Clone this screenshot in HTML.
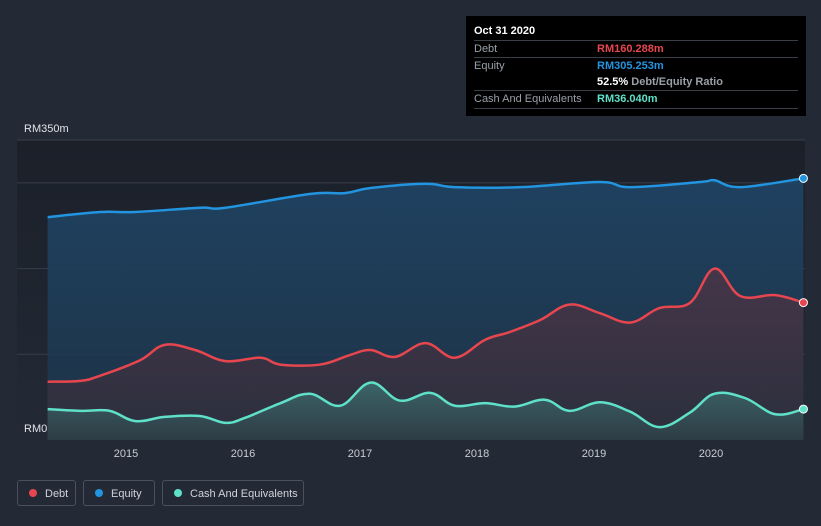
<!DOCTYPE html>
<html><head><meta charset="utf-8">
<style>
html,body{margin:0;padding:0;background:#232a36;width:821px;height:526px;overflow:hidden;font-family:"Liberation Sans",sans-serif;}
#tip{position:absolute;left:466px;top:16px;width:340px;height:100px;background:#000;}
#tip .t{position:absolute;left:8px;top:9px;color:#fff;font-weight:bold;font-size:11px;}
#tip .row{position:absolute;left:8px;width:324px;font-size:11px;color:#9aa0a8;border-top:1px solid #3a3f46;height:17px;line-height:17px;}
#tip .v{position:absolute;left:123px;font-weight:bold;}
.legend{position:absolute;top:480px;height:26px;border:1px solid #4a515c;border-radius:3px;color:#d0d4da;font-size:11px;line-height:26px;box-sizing:border-box;}
.legend i{display:inline-block;width:8px;height:8px;border-radius:50%;margin:0 8px 0 11px;vertical-align:-0px;}
</style></head><body>
<svg id="chart" width="821" height="526" style="position:absolute;left:0;top:0">
<defs>
<linearGradient id="bg" x1="0" y1="0" x2="0" y2="1"><stop offset="0" stop-color="#1b2029"/><stop offset="1" stop-color="#232a36"/></linearGradient>
<linearGradient id="eqg" x1="0" y1="0" x2="0" y2="1"><stop offset="0" stop-color="#1f4566"/><stop offset="1" stop-color="#1e3347"/></linearGradient>
<linearGradient id="dbg" x1="0" y1="0" x2="0" y2="1"><stop offset="0" stop-color="#4a3548"/><stop offset="1" stop-color="#2c2f3c"/></linearGradient>
<linearGradient id="csg" x1="0" y1="0" x2="0" y2="1"><stop offset="0" stop-color="#3d6a6c"/><stop offset="1" stop-color="#2e3d46"/></linearGradient>
</defs>
<rect x="17" y="140" width="788" height="300" fill="url(#bg)"/>
<g id="grid"></g>
<g id="series"></g>
<g id="xaxis"></g>
<text x="24" y="132" fill="#e0e3e8" font-size="11">RM350m</text>
<text x="24" y="432" fill="#e0e3e8" font-size="11">RM0</text>
</svg>
<div id="tip">
<div class="t">Oct 31 2020</div>
<div class="row" style="top:24px">Debt<span class="v" style="color:#e8464f">RM160.288m</span></div>
<div class="row" style="top:41px">Equity<span class="v" style="color:#2394df">RM305.253m</span></div>
<div class="row" style="top:58px;border-top:none"><span class="v"><b style="color:#fff">52.5%</b> Debt/Equity Ratio</span></div>
<div class="row" style="top:74px;border-bottom:1px solid #3a3f46">Cash And Equivalents<span class="v" style="color:#5fe0c8">RM36.040m</span></div>
</div>
<div class="legend" style="left:17px;width:59px"><i style="background:#e8464f"></i>Debt</div>
<div class="legend" style="left:83px;width:72px"><i style="background:#2394df"></i>Equity</div>
<div class="legend" style="left:162px;width:142px"><i style="background:#5fe0c8"></i>Cash And Equivalents</div>
<script>
const yearTicks=[2015,2016,2017,2018,2019,2020];
const gridValues=[100,200,300];
const eqDates=[2014.33,2014.78,2015.08,2015.63,2015.85,2016.57,2016.87,2017.09,2017.56,2017.81,2018.37,2019.05,2019.31,2019.91,2020.03,2020.25,2020.79];
const eqVals=[260,266,266,271,271,287,288,294,299,295,295,301,295,301,303,295,305.253];
const dbDates=[2014.33,2014.61,2014.78,2015.12,2015.33,2015.59,2015.85,2016.15,2016.32,2016.66,2016.91,2017.09,2017.30,2017.56,2017.81,2018.07,2018.28,2018.54,2018.79,2019.05,2019.31,2019.56,2019.82,2020.03,2020.25,2020.55,2020.79];
const dbVals=[68,69,75,93,111,105,92,96,88,88,99,105,97,113,96,117,126,140,158,148,137,154,160,200,168,169,160.288];
const csDates=[2014.33,2014.61,2014.86,2015.08,2015.33,2015.63,2015.85,2016.02,2016.32,2016.57,2016.83,2017.09,2017.34,2017.60,2017.81,2018.07,2018.32,2018.58,2018.79,2019.05,2019.31,2019.56,2019.82,2020.03,2020.29,2020.55,2020.79];
const csVals=[36,34,34,22,27,28,20,26,43,54,40,67,46,55,40,43,39,47,34,44,33,15,32,54,49,30,36.04];
const X=d=>126+(d-2015)*117;
const Y=v=>440-v*300/350;
const NS='http://www.w3.org/2000/svg';
function mk(tag,attrs,parent){const e=document.createElementNS(NS,tag);for(const k in attrs)e.setAttribute(k,attrs[k]);parent.appendChild(e);return e;}
const grid=document.getElementById('grid');
mk('line',{x1:17,x2:805,y1:140,y2:140,stroke:'#3a414d'},grid);
gridValues.forEach(v=>{const l=mk('line',{x1:17,x2:805,y1:Y(v),y2:Y(v),stroke:'#363d4a'},grid);

});
const xa=document.getElementById('xaxis');
yearTicks.forEach(y=>{const t=mk('text',{x:X(y),y:457,fill:'#c8ccd2','font-size':11,'text-anchor':'middle'},xa);t.textContent=y;

});
function path(ds,vs){const p=ds.map((d,i)=>[X(d),Y(vs[i])]);let s='M'+p[0][0]+','+p[0][1];
for(let i=0;i<p.length-1;i++){const p0=p[i-1]||p[i],p1=p[i],p2=p[i+1],p3=p[i+2]||p2;const t=0.18;
s+=' C'+(p1[0]+(p2[0]-p0[0])*t)+','+(p1[1]+(p2[1]-p0[1])*t)+' '+(p2[0]-(p3[0]-p1[0])*t)+','+(p2[1]-(p3[1]-p1[1])*t)+' '+p2[0]+','+p2[1];}
return {s,first:p[0],last:p[p.length-1]};}
const g=document.getElementById('series');
[['equity',eqDates,eqVals,'#2394df','url(#eqg)'],['debt',dbDates,dbVals,'#e8464f','url(#dbg)'],['cash',csDates,csVals,'#5fe0c8','url(#csg)']].forEach(([n,d,v,c,f])=>{
const P=path(d,v);
const a=mk('path',{d:P.s+' L'+P.last[0]+',440 L'+P.first[0]+',440 Z',fill:f,opacity:0.9},g);


const l=mk('path',{d:P.s,fill:'none',stroke:c,'stroke-width':2.5},g);


const dt=mk('circle',{cx:P.last[0],cy:P.last[1],r:4,fill:c,stroke:'#fff','stroke-width':1},g);


});
</script>
</body></html>
